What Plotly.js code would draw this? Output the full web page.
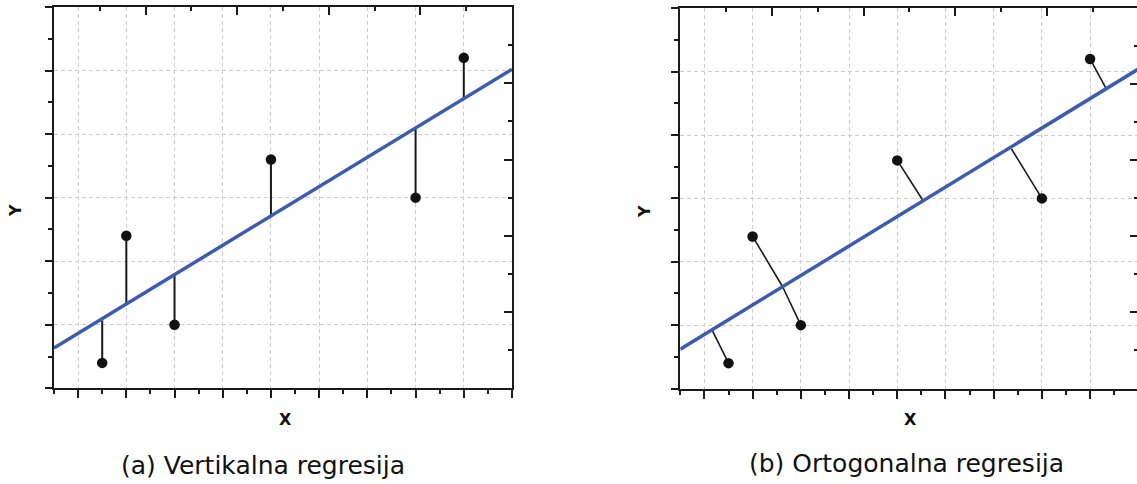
<!DOCTYPE html>
<html><head><meta charset="utf-8">
<script src="https://cdn.plot.ly/plotly-3.0.1.min.js"></script>
<style>html,body{margin:0;padding:0;overflow:hidden;background:#fff}#chart{width:1140px;height:484px}</style>
</head><body><div id="chart"></div>
<script>
// data
const pointsX = [1.5, 2, 3, 5, 8, 9];
const pointsY = [0.4, 2.4, 1.0, 3.6, 3.0, 5.2];
// vertical residual feet (panel a)
const vertFootY = [1.07, 1.32, 1.79, 2.69, 4.09, 4.56];
// orthogonal residual feet (panel b)
const orthoFootX = [1.16, 2.62, 2.62, 5.53, 7.37, 9.35];
const orthoFootY = [0.92, 1.61, 1.61, 2.97, 3.78, 4.71];
// regression lines (endpoints)
const lineAX = [0.5, 10.0];
const lineAY = [0.635, 5.02];
const lineBX = [0.5, 10.0];
const lineBY = [0.62, 5.04];
const panelTitles = ['(a) Vertikalna regresija', '(b) Ortogonalna regresija'];
const axisNames = ['X', 'Y'];

const W = 1140, H = 484;
const ink = '#1a1a1a';
const blue = '#3b5bb5';

function segs(x0, y0, x1, y1) {
  const xs = [], ys = [];
  for (let i = 0; i < x0.length; i++) { xs.push(x0[i], x1[i], null); ys.push(y0[i], y1[i], null); }
  return {xs, ys};
}
const sa = segs(pointsX, pointsY, pointsX, vertFootY);
const sb = segs(pointsX, pointsY, orthoFootX, orthoFootY);

const traces = [
  {x: sa.xs, y: sa.ys, xaxis: 'x', yaxis: 'y', mode: 'lines', line: {color: ink, width: 2}, hoverinfo: 'skip'},
  {x: lineAX, y: lineAY, xaxis: 'x', yaxis: 'y', mode: 'lines', line: {color: blue, width: 3.5}, hoverinfo: 'skip'},
  {x: pointsX, y: pointsY, xaxis: 'x', yaxis: 'y', mode: 'markers', marker: {color: '#111', size: 10.5}, cliponaxis: false},
  {x: sb.xs, y: sb.ys, xaxis: 'x3', yaxis: 'y3', mode: 'lines', line: {color: ink, width: 1.6}, hoverinfo: 'skip'},
  {x: lineBX, y: lineBY, xaxis: 'x3', yaxis: 'y3', mode: 'lines', line: {color: blue, width: 3.5}, hoverinfo: 'skip'},
  {x: pointsX, y: pointsY, xaxis: 'x3', yaxis: 'y3', mode: 'markers', marker: {color: '#111', size: 10.5}, cliponaxis: false},
  {x: [null], y: [null], xaxis: 'x2', yaxis: 'y2', mode: 'markers', hoverinfo: 'skip'},
  {x: [null], y: [null], xaxis: 'x4', yaxis: 'y4', mode: 'markers', hoverinfo: 'skip'}
];

function mainAxis(range, dom, anchor, len) {
  return {domain: dom, range: range, anchor: anchor, showline: true, linecolor: ink, linewidth: 2,
    ticks: 'outside', ticklen: len, tickwidth: 2, tickcolor: ink, dtick: 1, tick0: 0,
    showticklabels: false, showgrid: true, gridcolor: '#cdcdcd', gridwidth: 1, griddash: '4px,3px',
    zeroline: false, fixedrange: true,
    minor: {dtick: 0.5, ticklen: 4, tickwidth: 2, tickcolor: ink, ticks: 'outside', showgrid: false}};
}
function mirrorAxis(over, side, anchor) {
  return {overlaying: over, side: side, anchor: anchor, range: [0, 10], showline: true, linecolor: ink, linewidth: 2,
    ticks: 'inside', ticklen: 8, tickwidth: 2, tickcolor: ink, dtick: 2, tick0: 0,
    showticklabels: false, showgrid: false, zeroline: false, fixedrange: true,
    minor: {dtick: 1, ticklen: 4, tickwidth: 2, tickcolor: ink, ticks: 'inside', showgrid: false}};
}
const px = v => v / W, py = v => 1 - v / H;

const font = {family: 'DejaVu Sans', color: '#111'};
function ann(text, x, y, size, bold, angle) {
  return {text: text, x: px(x), y: py(y), xref: 'paper', yref: 'paper', showarrow: false,
    xanchor: 'center', yanchor: 'middle', textangle: angle || 0,
    font: Object.assign({}, font, {size: size, weight: bold ? 'bold' : 'normal'})};
}

const layout = {
  width: W, height: H, margin: {l: 0, r: 0, t: 0, b: 0}, showlegend: false,
  paper_bgcolor: '#fff', plot_bgcolor: '#fff',
  xaxis: mainAxis([0.5, 10], [px(54), px(512)], 'y', 8),
  yaxis: mainAxis([0, 6], [py(388.3), py(7)], 'x', 7),
  xaxis2: mirrorAxis('x', 'top', 'y'),
  yaxis2: mirrorAxis('y', 'right', 'x'),
  xaxis3: mainAxis([0.5, 10], [px(680.3), px(1138.3)], 'y3', 8),
  yaxis3: mainAxis([0, 6], [py(388.5), py(8.3)], 'x3', 7),
  xaxis4: mirrorAxis('x3', 'top', 'y3'),
  yaxis4: mirrorAxis('y3', 'right', 'x3'),
  annotations: [
    ann(axisNames[1], 16, 211, 16, true, -90),
    ann(axisNames[0], 285, 419, 16, true),
    ann(axisNames[1], 644, 212, 16, true, -90),
    ann(axisNames[0], 910, 419, 16, true),
    ann(panelTitles[0], 263, 465, 25, false),
    ann(panelTitles[1], 906, 463, 25, false)
  ]
};

Plotly.newPlot('chart', traces, layout, {staticPlot: true, displayModeBar: false});
</script>
</body></html>
